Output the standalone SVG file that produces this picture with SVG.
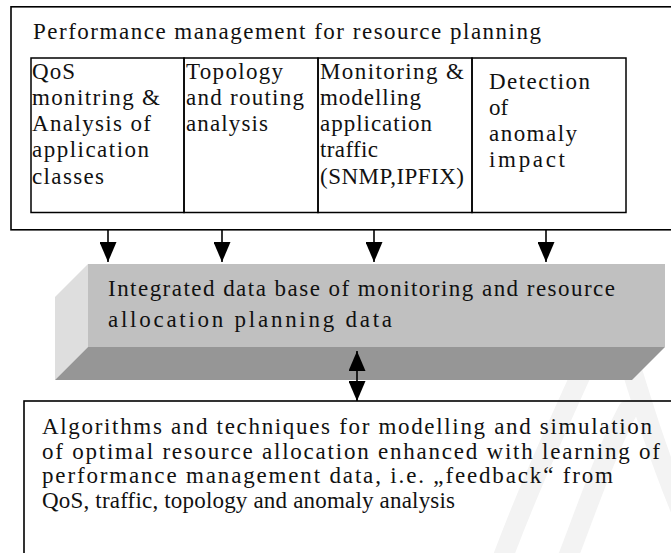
<svg xmlns="http://www.w3.org/2000/svg" width="671" height="553" viewBox="0 0 671 553">
  <style>
    .box { fill: none; stroke: #000; stroke-width: 1.6; }
    .cell { fill: none; stroke: #000; stroke-width: 1.5; }
    .t { font-family: "Liberation Serif", "Times New Roman", serif; font-size: 23px; fill: #111; }
    .conn { stroke: #000; stroke-width: 1.6; fill: none; }
    .wm { fill: none; stroke: #f3f3f3; stroke-width: 20; stroke-linecap: round; stroke-linejoin: round; }
  </style>
  <defs>
    <marker id="head" viewBox="0 0 20 17" refX="20" refY="8.5" markerWidth="20" markerHeight="17" markerUnits="userSpaceOnUse" orient="auto-start-reverse">
      <path d="M0,0 L20,8.5 L0,17 Z" fill="#000"/>
    </marker>
  </defs>

  <rect width="671" height="553" fill="#fff"/>

  <!-- faint background emblem -->
  <g id="emblem">
    <path class="wm" d="M500,565 C535,470 575,390 612,305 C635,380 655,450 685,520"/>
    <path class="wm" d="M565,565 C588,505 607,450 628,410"/>
  </g>

  <!-- upper block: performance management with its four activities -->
  <g id="performance">
    <rect class="box" x="11" y="6.8" width="670" height="223"/>
    <text class="t" x="33" y="39" textLength="508" lengthAdjust="spacing">Performance management for resource planning</text>
  </g>
  <g id="cell-qos">
    <rect class="cell" x="31" y="58" width="153" height="154.5"/>
    <text class="t" x="32" y="79" textLength="43" lengthAdjust="spacing">QoS</text>
    <text class="t" x="32" y="105" textLength="128" lengthAdjust="spacing">monitring &amp;</text>
    <text class="t" x="32" y="131" textLength="119" lengthAdjust="spacing">Analysis of</text>
    <text class="t" x="32" y="157" textLength="117" lengthAdjust="spacing">application</text>
    <text class="t" x="32" y="184" textLength="72" lengthAdjust="spacing">classes</text>
  </g>
  <g id="cell-topology">
    <rect class="cell" x="184" y="58" width="134" height="154.5"/>
    <text class="t" x="186" y="79" textLength="97" lengthAdjust="spacing">Topology</text>
    <text class="t" x="186" y="105" textLength="118" lengthAdjust="spacing">and routing</text>
    <text class="t" x="186" y="131" textLength="82" lengthAdjust="spacing">analysis</text>
  </g>
  <g id="cell-traffic">
    <rect class="cell" x="318" y="58" width="154" height="154.5"/>
    <text class="t" x="320" y="79" textLength="144" lengthAdjust="spacing">Monitoring &amp;</text>
    <text class="t" x="320" y="105" textLength="101" lengthAdjust="spacing">modelling</text>
    <text class="t" x="320" y="131" textLength="112" lengthAdjust="spacing">application</text>
    <text class="t" x="320" y="157" textLength="58" lengthAdjust="spacing">traffic</text>
    <text class="t" x="320" y="184" textLength="144" lengthAdjust="spacing">(SNMP,IPFIX)</text>
  </g>
  <g id="cell-anomaly">
    <rect class="cell" x="472" y="58" width="154" height="154.5"/>
    <text class="t" x="489" y="89" textLength="101" lengthAdjust="spacing">Detection</text>
    <text class="t" x="489" y="115">of</text>
    <text class="t" x="489" y="141" textLength="88" lengthAdjust="spacing">anomaly</text>
    <text class="t" x="489" y="167" textLength="76" lengthAdjust="spacing">impact</text>
  </g>

  <!-- shared database drawn as a slab -->
  <g id="database">
    <polygon points="55,297 88,264 88,347 55,380" fill="#dedede"/>
    <polygon points="88,264 665,264 665,347 88,347" fill="#c0c0c0"/>
    <polygon points="88,347 665,347 632,380 55,380" fill="#969696"/>
    <text class="t" x="108" y="296" textLength="507" lengthAdjust="spacing">Integrated data base of monitoring and resource</text>
    <text class="t" x="108" y="327" textLength="284" lengthAdjust="spacing">allocation planning data</text>
  </g>

  <!-- lower block: allocation algorithms -->
  <g id="algorithms">
    <rect class="box" x="24" y="401" width="660" height="170"/>
    <text class="t" x="42" y="434" textLength="610" lengthAdjust="spacing">Algorithms and techniques for modelling and simulation</text>
    <text class="t" x="42" y="459" textLength="618" lengthAdjust="spacing">of optimal resource allocation  enhanced with learning of</text>
    <text class="t" x="42" y="483" textLength="571" lengthAdjust="spacing">performance  management data, i.e. „feedback“ from</text>
    <text class="t" x="42" y="508" textLength="413" lengthAdjust="spacing">QoS, traffic, topology and anomaly analysis</text>
  </g>

  <!-- connectors -->
  <g id="connectors">
    <line class="conn" x1="108" y1="230" x2="108" y2="262" marker-end="url(#head)"/>
    <line class="conn" x1="222" y1="230" x2="222" y2="262" marker-end="url(#head)"/>
    <line class="conn" x1="374" y1="230" x2="374" y2="262" marker-end="url(#head)"/>
    <line class="conn" x1="546" y1="230" x2="546" y2="262" marker-end="url(#head)"/>
    <line class="conn" x1="357" y1="351" x2="357" y2="401" marker-start="url(#head)" marker-end="url(#head)"/>
  </g>
</svg>
